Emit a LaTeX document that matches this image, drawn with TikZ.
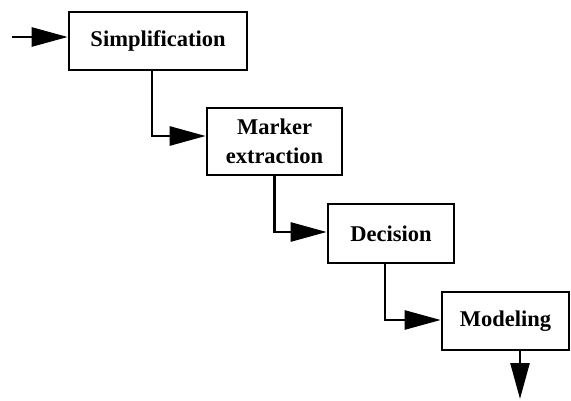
\documentclass[tikz,border=0pt]{standalone}
\usepackage{fontspec}
\setmainfont{Liberation Serif}
\usetikzlibrary{arrows.meta}
\begin{document}
\begin{tikzpicture}[x=1pt,y=-1pt,
  stagebox/.style={draw=black, line width=2.6pt, fill=white, inner sep=0pt, align=center,
    font=\fontsize{22.5}{29}\selectfont\bfseries},
  arr/.style={line width=2.6pt, -{Triangle[length=36pt,width=19pt]}}]
\useasboundingbox (0,0) rectangle (571,401);
\node[stagebox, minimum width=178pt, minimum height=58pt] (s) at (158,41) {Simplification};
\node[stagebox, minimum width=135pt, minimum height=67pt] (m) at (274.5,141.5) {Marker\\extraction};
\node[stagebox, minimum width=126pt, minimum height=59pt] (d) at (391,233.5) {Decision};
\node[stagebox, minimum width=127pt, minimum height=58pt] (o) at (505.5,321) {Modeling};
\coordinate (in) at (12,37);
\coordinate (out) at (520,399);
\draw[arr] (in) -- ([yshift=4pt]s.west);
\draw[arr] ([xshift=-6pt]s.south) |- ([yshift=5.5pt]m.west);
\draw[arr] (m.south) |- ([yshift=1.5pt]d.west);
\draw[arr] ([xshift=-6pt]d.south) |- ([yshift=1pt]o.west);
\draw[arr] ([xshift=14.5pt]o.south) -- (out);
\end{tikzpicture}
\end{document}
